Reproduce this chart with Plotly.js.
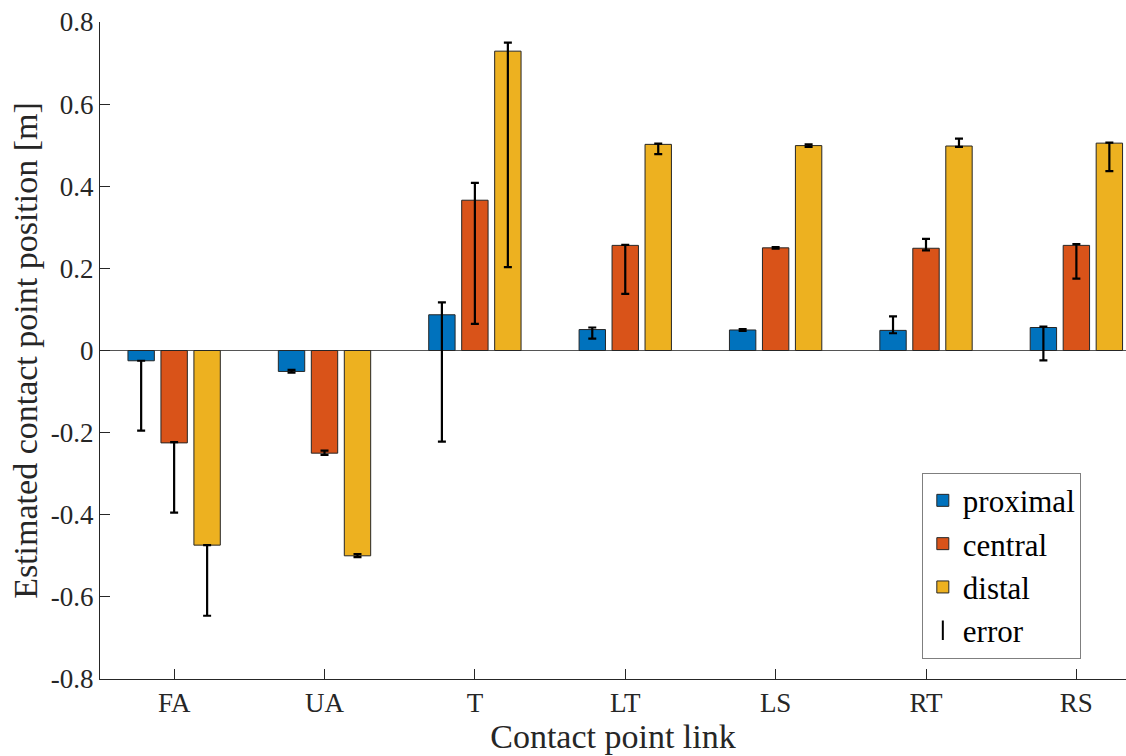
<!DOCTYPE html>
<html>
<head>
<meta charset="utf-8">
<script src="https://cdn.plot.ly/plotly-3.0.1.min.js"></script>
<style>html,body{margin:0;padding:0;background:#fff;}#chart{width:1126px;height:756px;}</style>
</head>
<body>
<div id="chart"></div>
<script>
const categories = ["FA", "UA", "T", "LT", "LS", "RT", "RS"];
const proximal = [-0.025, -0.051, 0.087, 0.051, 0.050, 0.049, 0.056];
const proximalPlus = [0.0, 0.004, 0.030, 0.005, 0.002, 0.034, 0.002];
const proximalMinus = [0.170, 0.003, 0.309, 0.022, 0.002, 0.007, 0.080];
const central = [-0.225, -0.250, 0.366, 0.256, 0.250, 0.249, 0.256];
const centralPlus = [0.002, 0.006, 0.042, 0.001, 0.002, 0.023, 0.003];
const centralMinus = [0.170, 0.004, 0.301, 0.118, 0.002, 0.005, 0.081];
const distal = [-0.474, -0.500, 0.729, 0.502, 0.499, 0.498, 0.505];
const distalPlus = [0.0, 0.004, 0.021, 0.002, 0.003, 0.018, 0.001];
const distalMinus = [0.172, 0.003, 0.526, 0.024, 0.003, 0.002, 0.068];
const yTickVals = [-0.8, -0.6, -0.4, -0.2, 0, 0.2, 0.4, 0.6, 0.8];
const yTickText = ["-0.8", "-0.6", "-0.4", "-0.2", "0", "0.2", "0.4", "0.6", "0.8"];

const FONT = "'Liberation Serif'";
function barTrace(name, y, plus, minus, color) {
  return {
    type: "bar", name: name, x: categories, y: y,
    marker: {color: color, line: {color: "#262626", width: 1}},
    error_y: {type: "data", symmetric: false, array: plus, arrayminus: minus,
              color: "#000", thickness: 2.2, width: 4},
    cliponaxis: false
  };
}
const traces = [
  barTrace("proximal", proximal, proximalPlus, proximalMinus, "#0072BD"),
  barTrace("central", central, centralPlus, centralMinus, "#D95319"),
  barTrace("distal", distal, distalPlus, distalMinus, "#EDB120"),
  {type: "scatter", mode: "markers", name: "error", x: [categories[0]], y: [10],
   marker: {symbol: "line-ns-open", color: "#000", size: 14, line: {width: 2, color: "#000"}},
   cliponaxis: true}
];
const layout = {
  width: 1126, height: 756,
  margin: {l: 100, r: 0, t: 22, b: 77},
  paper_bgcolor: "#fff", plot_bgcolor: "#fff",
  font: {family: FONT, color: "#262626", size: 27},
  barmode: "group", bargap: 0.342, bargroupgap: 0.2,
  showlegend: true,
  legend: {x: 0.801, y: 0.314, xanchor: "left", yanchor: "top",
           bgcolor: "#fff", bordercolor: "#7f7f7f", borderwidth: 1,
           font: {family: FONT, size: 31, color: "#000"},
           tracegroupgap: 0, itemwidth: 30},
  xaxis: {
    type: "category", range: [-0.493, 6.33],
    showline: true, linecolor: "#262626", linewidth: 1, mirror: false,
    ticks: "inside", ticklen: 10, tickcolor: "#262626",
    tickfont: {family: FONT, size: 27, color: "#262626"},
    title: {text: "Contact point link", font: {family: FONT, size: 34, color: "#262626"}, standoff: 4},
    showgrid: false, zeroline: false, fixedrange: true
  },
  yaxis: {
    range: [-0.8, 0.8], tickvals: yTickVals, ticktext: yTickText,
    showline: true, linecolor: "#262626", linewidth: 1,
    ticks: "inside", ticklen: 10, tickcolor: "#262626",
    tickfont: {family: FONT, size: 27, color: "#262626"},
    title: {text: "Estimated contact point position [m]", font: {family: FONT, size: 34, color: "#262626"}, standoff: 2},
    showgrid: false, zeroline: true, zerolinecolor: "#555", zerolinewidth: 1.5, fixedrange: true
  }
};
Plotly.newPlot("chart", traces, layout, {displayModeBar: false, staticPlot: true});
</script>
</body>
</html>
